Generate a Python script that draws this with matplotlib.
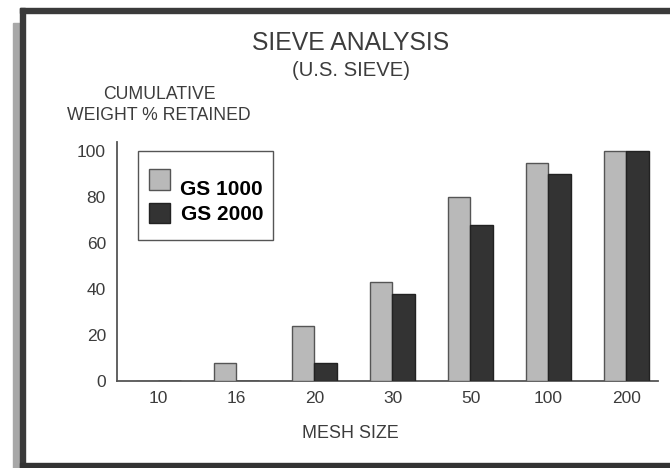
import numpy as np
import matplotlib
matplotlib.use('Agg')
import matplotlib.pyplot as plt
from matplotlib.patches import Rectangle

plt.rcParams['font.family'] = ['Liberation Sans', 'DejaVu Sans']

W, H = 670, 468

mesh_sizes = ['10', '16', '20', '30', '50', '100', '200']
gs1000 = [0, 8, 24, 43, 80, 95, 100]
gs2000 = [0, 0, 8, 38, 68, 90, 100]
series_names = ['GS 1000', 'GS 2000']
y_ticks = [0, 20, 40, 60, 80, 100]

LIGHT = '#b9b9b9'
DARK = '#333333'
EDGE = '#555555'
TXT = '#3c3c3c'


def fx(x):
    return x / W


def fy(y):
    return 1 - y / H


fig = plt.figure(figsize=(W / 100, H / 100), dpi=100)
fig.patch.set_facecolor('white')

# scanned frame border
fig.patches.append(Rectangle((fx(13), fy(468)), fx(8), (468 - 23) / H,
                             transform=fig.transFigure, color='#a8a8a8', zorder=0))
fig.patches.append(Rectangle((fx(20), fy(13)), fx(650), 5 / H,
                             transform=fig.transFigure, color='#3a3a3a', zorder=0))
fig.patches.append(Rectangle((fx(20), fy(468)), fx(5), (468 - 8) / H,
                             transform=fig.transFigure, color='#3a3a3a', zorder=0))
fig.patches.append(Rectangle((fx(20), fy(468)), fx(650), 5 / H,
                             transform=fig.transFigure, color='#333333', zorder=0))

ax = fig.add_axes([fx(117), fy(381), 540.7 / W, 239 / H])
ax.set_facecolor('none')
x = np.arange(len(mesh_sizes))
bw = 0.292
ax.bar(x - bw / 2, gs1000, bw, color=LIGHT, edgecolor=EDGE, linewidth=1.0, zorder=3)
ax.bar(x + bw / 2, gs2000, bw, color=DARK, edgecolor='#222222', linewidth=1.0, zorder=3)

ax.set_xlim(-0.532, 6.4)
ax.set_ylim(0, 104)
ax.set_xticks(x)
ax.set_xticklabels(mesh_sizes)
ax.set_yticks(y_ticks)
ax.tick_params(axis='both', length=0, labelsize=12.5, labelcolor=TXT)
ax.tick_params(axis='y', pad=8)
ax.tick_params(axis='x', pad=7)
for s in ['top', 'right']:
    ax.spines[s].set_visible(False)
for s in ['left', 'bottom']:
    ax.spines[s].set_color(EDGE)
    ax.spines[s].set_linewidth(1.3)

# titles and axis captions
fig.text(fx(351), fy(42.5), 'SIEVE ANALYSIS', ha='center', va='center',
         fontsize=17.8, color=TXT)
fig.text(fx(351), fy(71), '(U.S. SIEVE)', ha='center', va='center',
         fontsize=14.6, color=TXT)
fig.text(fx(159), fy(94.5), 'CUMULATIVE', ha='center', va='center',
         fontsize=12.7, color=TXT)
fig.text(fx(159), fy(115), 'WEIGHT % RETAINED', ha='center', va='center',
         fontsize=12.7, color=TXT)
fig.text(fx(350), fy(433), 'MESH SIZE', ha='center', va='center',
         fontsize=12.9, color=TXT)

# legend box drawn by hand
fig.patches.append(Rectangle((fx(138.3), fy(240)), (272.7 - 138.3) / W, 89 / H,
                             transform=fig.transFigure, facecolor='white',
                             edgecolor=EDGE, linewidth=1.0, zorder=4))
fig.patches.append(Rectangle((fx(149.3), fy(190)), 20.7 / W, 20.7 / H,
                             transform=fig.transFigure, facecolor=LIGHT,
                             edgecolor=EDGE, linewidth=1.0, zorder=5))
fig.patches.append(Rectangle((fx(149.3), fy(223.3)), 20.7 / W, 20.7 / H,
                             transform=fig.transFigure, facecolor=DARK,
                             edgecolor='#222222', linewidth=1.0, zorder=5))
fig.text(fx(180), fy(195), series_names[0], ha='left', va='baseline',
         fontsize=15, fontweight='bold', color='black', zorder=6)
fig.text(fx(181), fy(220), series_names[1], ha='left', va='baseline',
         fontsize=15, fontweight='bold', color='black', zorder=6)

fig.savefig('out.png', dpi=100)
